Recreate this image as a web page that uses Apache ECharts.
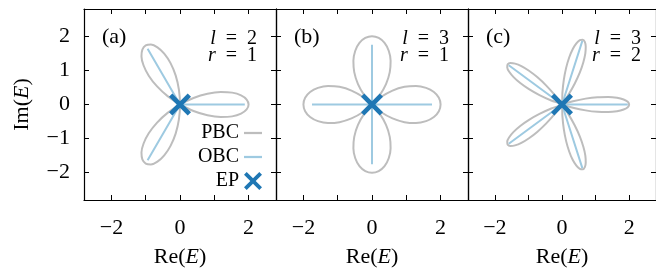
<!DOCTYPE html>
<html>
<head>
<meta charset="utf-8">
<script src="https://cdn.jsdelivr.net/npm/echarts@6/dist/echarts.min.js"></script>
<style>
html, body { margin: 0; padding: 0; background: #fff; }
#chart { width: 656px; height: 274px; }
</style>
</head>
<body>
<div id="chart"></div>
<script>
// 刻度
const xTicks = [-2, -1, 0, 1, 2];
const xTickLabels = [-2, 0, 2];
const yTicks = [-2, -1, 0, 1, 2];
const yTickLabels = [-2, -1, 0, 1, 2];

// 面板标注
const panelTags = ['(a)', '(b)', '(c)'];
const lValues = [2, 3, 3];
const rValues = [1, 1, 2];

// EP (原点)
const ep = [0, 0];

// PBC 谱 (从图上读的点)
const pbcA = [
    [0, 0], [0.394, -0.191], [0.802, -0.316], [1.188, -0.367], [1.522, -0.348], [1.781, -0.269], [1.944, -0.146], [2, 0],
    [1.944, 0.146], [1.781, 0.269], [1.522, 0.348], [1.188, 0.367], [0.802, 0.316], [0.394, 0.191], [0, 0],
    [-0.362, -0.246], [-0.675, -0.537], [-0.912, -0.845], [-1.062, -1.144], [-1.124, -1.407], [-1.098, -1.611], [-1, -1.732],
    [-0.846, -1.757], [-0.658, -1.677], [-0.46, -1.492], [-0.276, -1.213], [-0.127, -0.853], [-0.032, -0.437], [0, 0],
    [-0.032, 0.437], [-0.127, 0.853], [-0.276, 1.213], [-0.46, 1.492], [-0.658, 1.677], [-0.846, 1.757], [-1, 1.732],
    [-1.098, 1.611], [-1.124, 1.407], [-1.062, 1.144], [-0.912, 0.845], [-0.675, 0.537], [-0.362, 0.246], [0, 0]
];
const pbcB = [
    [0, 0], [0.26, -0.219], [0.598, -0.409], [0.948, -0.518], [1.283, -0.543], [1.577, -0.488], [1.805, -0.366], [1.95, -0.196], [2, 0],
    [1.95, 0.196], [1.805, 0.366], [1.577, 0.488], [1.283, 0.543], [0.948, 0.518], [0.598, 0.409], [0.26, 0.219], [0, 0],
    [-0.219, -0.26], [-0.409, -0.598], [-0.518, -0.948], [-0.543, -1.283], [-0.488, -1.577], [-0.366, -1.805], [-0.196, -1.95], [0, -2],
    [0.196, -1.95], [0.366, -1.805], [0.488, -1.577], [0.543, -1.283], [0.518, -0.948], [0.409, -0.598], [0.219, -0.26], [0, 0],
    [-0.26, 0.219], [-0.598, 0.409], [-0.948, 0.518], [-1.283, 0.543], [-1.577, 0.488], [-1.805, 0.366], [-1.95, 0.196], [-2, 0],
    [-1.95, -0.196], [-1.805, -0.366], [-1.577, -0.488], [-1.283, -0.543], [-0.948, -0.518], [-0.598, -0.409], [-0.26, -0.219], [0, 0],
    [0.219, 0.26], [0.409, 0.598], [0.518, 0.948], [0.543, 1.283], [0.488, 1.577], [0.366, 1.805], [0.196, 1.95], [0, 2],
    [-0.196, 1.95], [-0.366, 1.805], [-0.488, 1.577], [-0.543, 1.283], [-0.518, 0.948], [-0.409, 0.598], [-0.219, 0.26], [0, 0]
];
const pbcC = [
    [0, 0], [0.327, -0.094], [0.704, -0.172], [1.059, -0.215], [1.376, -0.222], [1.639, -0.198], [1.836, -0.147], [1.959, -0.078], [2, 0],
    [1.959, 0.078], [1.836, 0.147], [1.639, 0.198], [1.376, 0.222], [1.059, 0.215], [0.704, 0.172], [0.327, 0.094], [0, 0],
    [0.19, 0.282], [0.381, 0.616], [0.532, 0.941], [0.636, 1.24], [0.695, 1.498], [0.707, 1.701], [0.68, 1.839], [0.618, 1.902],
    [0.531, 1.887], [0.428, 1.792], [0.318, 1.62], [0.214, 1.377], [0.123, 1.074], [0.054, 0.723], [0.012, 0.34], [0, 0],
    [-0.209, 0.268], [-0.468, 0.553], [-0.73, 0.796], [-0.983, 0.988], [-1.21, 1.124], [-1.399, 1.198], [-1.539, 1.215], [-1.618, 1.176],
    [-1.631, 1.088], [-1.572, 0.96], [-1.442, 0.803], [-1.244, 0.629], [-0.983, 0.449], [-0.671, 0.275], [-0.32, 0.116], [0, 0],
    [-0.32, -0.116], [-0.671, -0.275], [-0.983, -0.449], [-1.244, -0.629], [-1.442, -0.803], [-1.572, -0.96], [-1.631, -1.088], [-1.618, -1.176],
    [-1.539, -1.215], [-1.399, -1.198], [-1.21, -1.124], [-0.983, -0.988], [-0.73, -0.796], [-0.468, -0.553], [-0.209, -0.268], [0, 0],
    [0.012, -0.34], [0.054, -0.723], [0.123, -1.074], [0.214, -1.377], [0.318, -1.62], [0.428, -1.792], [0.531, -1.887], [0.618, -1.902],
    [0.68, -1.839], [0.707, -1.701], [0.695, -1.498], [0.636, -1.24], [0.532, -0.941], [0.381, -0.616], [0.19, -0.282], [0, 0]
];

// OBC 谱: 从原点到各端点的线段
const obcA = [[1.89, 0], [-0.945, 1.637], [-0.945, -1.637]];
const obcB = [[1.75, 0], [0, 1.75], [-1.75, 0], [0, -1.75]];
const obcC = [[1.96, 0], [0.606, 1.864], [-1.586, 1.152], [-1.586, -1.152], [0.606, -1.864]];

const pbcList = [pbcA, pbcB, pbcC];
const obcList = [obcA, obcB, obcC];

const FONT = 'Liberation Serif';
const GRAY = '#bdbdbd';
const LIGHT = '#9ecae1';
const DARK = '#1f77b4';
const X_PATH = 'path://M0,3L3,0L10,7L17,0L20,3L13,10L20,17L17,20L10,13L3,20L0,17L7,10Z';
const LINE_ICON = 'path://M0,0H16V2H0Z';

const panelLeft = [84, 276, 468];
const panelW = 192, panelTop = 9, panelH = 191;

function fmt(v) {
    return v < 0 ? '\u2212' + Math.abs(v) : String(v);
}

const lineStyleAxis = { color: '#000', width: 1.2 };
const tickStyle = { color: '#000', width: 1 };
const italicRich = { i: { fontStyle: 'italic', fontFamily: FONT, fontSize: 22, color: '#000' } };
const smallRich = { i: { fontStyle: 'italic', fontFamily: FONT, fontSize: 20, color: '#000' } };

let grids = [], xAxes = [], yAxes = [], series = [], titles = [];

for (let i = 0; i < 3; i++) {
    grids.push({ left: panelLeft[i], top: panelTop, width: panelW, height: panelH });

    // 下轴 / 上轴
    xAxes.push({
        gridIndex: i, type: 'value', min: -2.8, max: 2.8, position: 'bottom',
        axisLine: { show: true, onZero: false, lineStyle: lineStyleAxis },
        axisTick: { show: true, inside: true, length: 5, lineStyle: tickStyle, customValues: xTicks },
        axisLabel: { show: true, customValues: xTickLabels, formatter: fmt, margin: 17, color: '#000', fontFamily: FONT, fontSize: 22 },
        splitLine: { show: false },
        name: 'Re({i|E})', nameLocation: 'middle', nameGap: 46,
        nameTextStyle: { fontFamily: FONT, fontSize: 22, color: '#000', rich: italicRich }
    });
    xAxes.push({
        gridIndex: i, type: 'value', min: -2.8, max: 2.8, position: 'top',
        axisLine: { show: true, onZero: false, lineStyle: lineStyleAxis },
        axisTick: { show: true, inside: true, length: 5, lineStyle: tickStyle, customValues: xTicks },
        axisLabel: { show: false },
        splitLine: { show: false }
    });

    // 左轴 / 右轴
    let yLeft = {
        gridIndex: i, type: 'value', min: -2.8, max: 2.8, position: 'left',
        axisLine: { show: true, onZero: false, lineStyle: lineStyleAxis },
        axisTick: { show: true, inside: true, length: 5, lineStyle: tickStyle, customValues: yTicks },
        axisLabel: { show: i === 0, customValues: yTickLabels, formatter: fmt, margin: 14, color: '#000', fontFamily: FONT, fontSize: 22 },
        splitLine: { show: false }
    };
    if (i === 0) {
        yLeft.name = 'Im({i|E})';
        yLeft.nameLocation = 'middle';
        yLeft.nameGap = 51;
        yLeft.nameRotate = 90;
        yLeft.nameTextStyle = { fontFamily: FONT, fontSize: 22, color: '#000', rich: italicRich };
    }
    yAxes.push(yLeft);
    yAxes.push({
        gridIndex: i, type: 'value', min: -2.8, max: 2.8, position: 'right',
        axisLine: { show: true, onZero: false, lineStyle: lineStyleAxis },
        axisTick: { show: true, inside: true, length: 5, lineStyle: tickStyle, customValues: yTicks },
        axisLabel: { show: false },
        splitLine: { show: false }
    });

    // PBC
    series.push({
        name: 'PBC', type: 'line', xAxisIndex: 2 * i, yAxisIndex: 2 * i,
        data: pbcList[i], showSymbol: false, smooth: 0.3, z: 2,
        lineStyle: { color: GRAY, width: 2 }, itemStyle: { color: GRAY }
    });
    // OBC
    let obcData = [];
    obcList[i].forEach(p => { obcData.push(ep, p); });
    series.push({
        name: 'OBC', type: 'line', xAxisIndex: 2 * i, yAxisIndex: 2 * i,
        data: obcData, showSymbol: false, z: 3,
        lineStyle: { color: LIGHT, width: 2 }, itemStyle: { color: LIGHT }
    });
    // EP
    series.push({
        name: 'EP', type: 'scatter', xAxisIndex: 2 * i, yAxisIndex: 2 * i,
        data: [ep], symbol: X_PATH, symbolSize: 22, z: 4,
        itemStyle: { color: DARK, opacity: 1 }
    });

    // 标注
    const right = 656 - (panelLeft[i] + panelW) + 19;
    titles.push({
        text: panelTags[i], left: panelLeft[i] + 18, top: 26, padding: 0,
        textStyle: { fontFamily: FONT, fontSize: 22, fontWeight: 'normal', color: '#000' }
    });
    titles.push({
        text: '{i|l}\u2002=\u2002' + lValues[i], right: right, top: 29, padding: 0,
        textStyle: { fontFamily: FONT, fontSize: 20, fontWeight: 'normal', color: '#000', rich: smallRich }
    });
    titles.push({
        text: '{i|r}\u2002=\u2002' + rValues[i], right: right, top: 46, padding: 0,
        textStyle: { fontFamily: FONT, fontSize: 20, fontWeight: 'normal', color: '#000', rich: smallRich }
    });
}

const option = {
    animation: false,
    backgroundColor: '#fff',
    title: titles,
    grid: grids,
    xAxis: xAxes,
    yAxis: yAxes,
    legend: {
        data: [
            { name: 'PBC', icon: LINE_ICON },
            { name: 'OBC', icon: LINE_ICON },
            { name: 'EP', icon: X_PATH }
        ],
        orient: 'vertical', align: 'right',
        right: 394, top: 123, padding: 0,
        itemWidth: 18, itemHeight: 18, itemGap: 4,
        selectedMode: false,
        itemStyle: { borderWidth: 0, opacity: 1 },
        textStyle: { fontFamily: FONT, fontSize: 20, color: '#000' }
    },
    series: series
};

const chart = echarts.init(document.getElementById('chart'));
chart.setOption(option);
</script>
</body>
</html>
